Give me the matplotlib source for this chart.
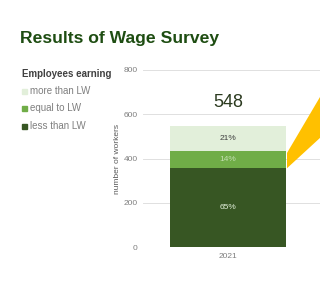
import numpy as np
import matplotlib.pyplot as plt
from matplotlib.patches import Rectangle

plt.rcParams['font.family'] = ['Liberation Sans', 'DejaVu Sans']

# ===== data
years = ['2021']
categories = ['less than LW', 'equal to LW', 'more than LW']
counts = [356, 77, 115]
shares = ['65%', '14%', '21%']
colors = ['#375623', '#70ad47', '#e2efda']
label_colors = ['#e2efda', '#c5e0b4', '#404040']
yticks = [0, 200, 400, 600, 800]

W, H = 320, 287
fig = plt.figure(figsize=(W / 100, H / 100), dpi=100)
fig.patch.set_facecolor('white')

# axes placed in pixel terms: x from 143 to the right edge, y=0 at 247, y=800 at 70
ax = fig.add_axes([143 / W, (H - 247) / H, (W - 143) / W, (247 - 70) / H])
ax.set_xlim(-85, 92)
ax.set_ylim(0, 800)

bar_w = 116
bottoms = np.concatenate([[0], np.cumsum(counts)[:-1]])
total = sum(counts)
for cnt, bot, col, share, lc in zip(counts, bottoms, colors, shares, label_colors):
    ax.bar(0, cnt, bottom=bot, width=bar_w, color=col, zorder=3)
    ax.text(0, bot + cnt / 2, share, ha='center', va='center', fontsize=6, color=lc, zorder=4)
ax.text(0, total + 105, str(total), ha='center', va='center', fontsize=13, color='#2b3a1f')

# yellow callout wedge leaving the middle segment towards the right
x0 = bar_w / 2 + 1
wedge_y = [bottoms[1], bottoms[2] - 8, 678, 493]
wedge_x = [x0, x0, 92, 92]
ax.fill(wedge_x, wedge_y, color='#ffc000', lw=0, zorder=2, clip_on=False)

ax.set_yticks(yticks)
ax.set_xticks([0])
ax.set_xticklabels(years)
ax.tick_params(axis='both', length=0, labelsize=6, labelcolor='#7f7f7f')
ax.tick_params(axis='y', pad=4)
ax.tick_params(axis='x', pad=4)
ax.grid(axis='y', color='#e0e0e0', lw=0.7, zorder=0)
for s in ax.spines.values():
    s.set_visible(False)
ax.set_ylabel('number of workers', fontsize=6, color='#595959')
ax.yaxis.set_label_coords(-(143 - 121) / (W - 143), 0.5)

# title
fig.text(20 / W, 1 - 39 / H, 'Results of Wage Survey', fontsize=12.6, fontweight='bold',
         color='#1e4d12', ha='left', va='center')

# legend drawn by hand
fig.text(22 / W, 1 - 74 / H, 'Employees earning', fontsize=7, fontweight='bold',
         color='#404040', ha='left', va='center')
leg_y = [91, 108, 126]
for cat, col, py in zip(categories[::-1], colors[::-1], leg_y):
    fig.patches.append(Rectangle((22 / W, 1 - (py + 2.5) / H), 5 / W, 5 / H,
                                 transform=fig.transFigure, color=col, figure=fig))
    fig.text(30 / W, 1 - py / H, cat, fontsize=7, color='#7f7f7f', ha='left', va='center')

fig.savefig('out.png', dpi=100)
